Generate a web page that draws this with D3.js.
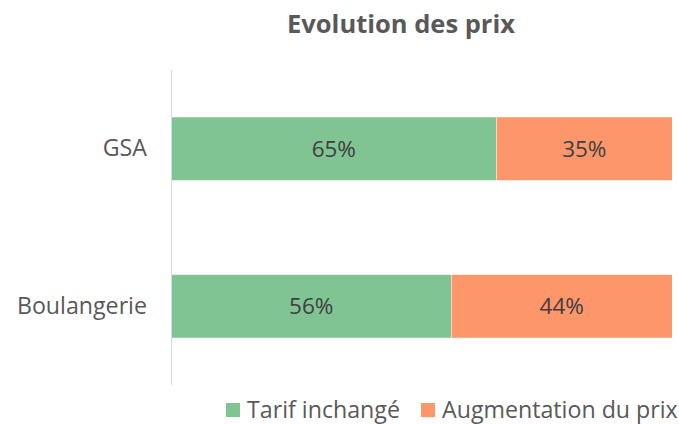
<!DOCTYPE html>
<html>
<head>
<meta charset="utf-8">
<script src="https://cdn.jsdelivr.net/npm/d3@7"></script>
<style>
  body { margin: 0; background: #fff; }
  svg { display: block; font-family: "Open Sans", sans-serif; }
</style>
</head>
<body>
<svg id="chart" width="679" height="424"></svg>
<script>
var categories = ["GSA", "Boulangerie"];
var seriesNames = ["Tarif inchangé", "Augmentation du prix"];
var tarifInchange = [65, 56];
var augmentation = [35, 44];
var colors = ["#7fc492", "#fd966a"];

var svg = d3.select("#chart");

var x = d3.scaleLinear()
    .domain([0, 100])
    .range([171, 672]);

var y = d3.scaleBand()
    .domain(categories)
    .range([70, 385])
    .paddingInner(0.6)
    .paddingOuter(0.3);

// title
svg.append("text")
    .attr("x", 401)
    .attr("y", 33)
    .attr("text-anchor", "middle")
    .style("font-size", "25.5px")
    .style("font-weight", "bold")
    .style("fill", "#595959")
    .text("Evolution des prix");

var stackData = categories.map(function (c, i) {
    return { cat: c, a: tarifInchange[i], b: augmentation[i] };
});

var stack = d3.stack().keys(["a", "b"]);
var layers = stack(stackData);

var g = svg.selectAll(".layer")
    .data(layers)
    .enter().append("g")
    .attr("class", "layer")
    .attr("fill", function (d, i) { return colors[i]; });

g.selectAll("rect")
    .data(function (d) { return d; })
    .enter().append("rect")
    .attr("x", function (d) { return x(d[0]); })
    .attr("y", function (d) { return y(d.data.cat); })
    .attr("width", function (d) { return x(d[1]) - x(d[0]); })
    .attr("height", y.bandwidth());

// white separator between segments
g.selectAll("line")
    .data(function (d, i) { return i === 0 ? d : []; })
    .enter().append("line")
    .attr("x1", function (d) { return x(d[1]); })
    .attr("x2", function (d) { return x(d[1]); })
    .attr("y1", function (d) { return y(d.data.cat); })
    .attr("y2", function (d) { return y(d.data.cat) + y.bandwidth(); })
    .style("stroke", "#fff")
    .style("stroke-width", "1px");

g.selectAll("text")
    .data(function (d) { return d; })
    .enter().append("text")
    .attr("x", function (d) { return (x(d[0]) + x(d[1])) / 2; })
    .attr("y", function (d) { return y(d.data.cat) + y.bandwidth() / 2; })
    .attr("dy", "0.35em")
    .attr("text-anchor", "middle")
    .style("fill", "#404040")
    .style("font-size", "22.5px")
    .text(function (d) { return (d[1] - d[0]) + "%"; });

// category axis
var axis = svg.append("g")
    .attr("transform", "translate(171,0)")
    .call(d3.axisLeft(y).tickSize(0).tickPadding(24));
axis.select(".domain")
    .attr("d", "M0.5,70V385")
    .style("stroke", "#d9d9d9")
    .style("stroke-width", "1px");
axis.selectAll("text")
    .style("font-family", "Open Sans, sans-serif")
    .style("font-size", "23.2px")
    .style("fill", "#595959");

// legend
var legendX = [226, 421];
var legend = svg.selectAll(".legend")
    .data(seriesNames)
    .enter().append("g")
    .attr("class", "legend")
    .attr("transform", function (d, i) { return "translate(" + legendX[i] + ",403)"; });
legend.append("rect")
    .attr("width", 14)
    .attr("height", 14)
    .attr("fill", function (d, i) { return colors[i]; });
legend.append("text")
    .attr("x", 21)
    .attr("y", 7)
    .attr("dy", "0.35em")
    .style("font-size", "23.2px")
    .style("fill", "#595959")
    .text(function (d) { return d; });
</script>
</body>
</html>
